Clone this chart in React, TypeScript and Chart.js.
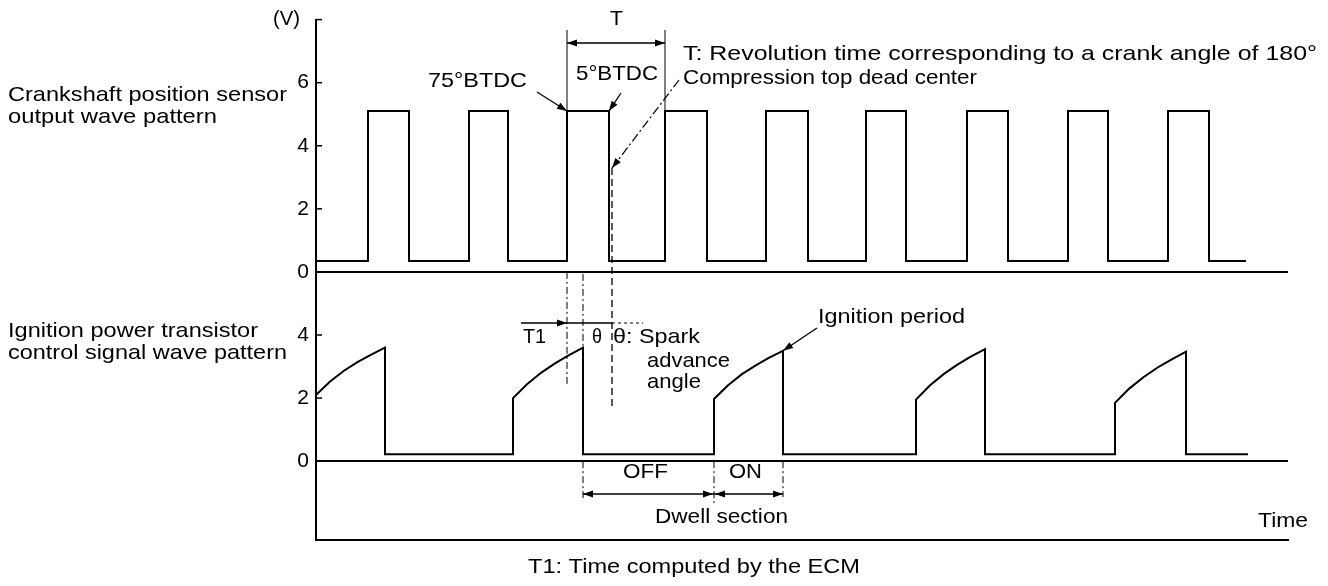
import React, { useEffect, useRef } from 'react';
import { Chart, registerables } from 'chart.js';

Chart.register(...registerables);

const FONT = '"Liberation Sans", Arial, Helvetica, sans-serif';

// ---- Data (time units along the x axis, volts on the y axes) ----
// Crankshaft position sensor output (upper trace)
const crankRise = [52, 153, 251, 349, 450, 550, 651, 752, 852];
const crankFall = [93, 192, 293, 391, 492, 590, 692, 792, 893];
const crankLowV = 0.35;
const crankHighV = 5.1;
const crankEnd = 930;

// Ignition power transistor control signal (lower trace)
const ignRise = [0, 197, 398, 600, 799];
const ignPeak = [69, 267, 467, 669, 870];
const ignRampV = [
  [2.1, 2.52, 2.86, 3.14, 3.38, 3.6],
  [2.0, 2.44, 2.8, 3.1, 3.36, 3.6],
  [1.97, 2.4, 2.75, 3.03, 3.28, 3.5],
  [1.95, 2.4, 2.76, 3.06, 3.32, 3.55],
  [1.85, 2.3, 2.66, 2.97, 3.23, 3.47],
];
const ignLowV = 0.22;
const ignEnd = 932;

// Compression top dead center (just after the 5°BTDC edge of the 3rd pulse)
const tdcTime = 296;

// Axis ticks
const topTickLabels = [0, 2, 4, 6];
const bottomTickLabels = [0, 2, 4];
const TOP_OFFSET = 6; // upper trace zero sits 6 units above the lower trace zero
const TOP_AXIS_MAX = 8;
const Y_MIN = -2.5;
const X_MAX = 972;

function buildCrank() {
  const pts: { x: number; y: number }[] = [{ x: 0, y: crankLowV + TOP_OFFSET }];
  crankRise.forEach((r, i) => {
    pts.push({ x: r, y: crankLowV + TOP_OFFSET });
    pts.push({ x: r, y: crankHighV + TOP_OFFSET });
    pts.push({ x: crankFall[i], y: crankHighV + TOP_OFFSET });
    pts.push({ x: crankFall[i], y: crankLowV + TOP_OFFSET });
  });
  pts.push({ x: crankEnd, y: crankLowV + TOP_OFFSET });
  return pts;
}

function buildIgn() {
  const pts: { x: number; y: number }[] = [];
  ignRise.forEach((r, i) => {
    const ramp = ignRampV[i];
    if (i > 0) pts.push({ x: r, y: ignLowV });
    ramp.forEach((v, k) => {
      pts.push({ x: r + ((ignPeak[i] - r) * k) / (ramp.length - 1), y: v });
    });
    pts.push({ x: ignPeak[i], y: ignLowV });
  });
  pts.push({ x: ignEnd, y: ignLowV });
  return pts;
}

function head(ctx: CanvasRenderingContext2D, tx: number, ty: number, ang: number, len = 10, hw = 3.5) {
  ctx.save();
  ctx.setLineDash([]);
  ctx.beginPath();
  ctx.moveTo(tx, ty);
  ctx.lineTo(tx - len * Math.cos(ang) + hw * Math.sin(ang), ty - len * Math.sin(ang) - hw * Math.cos(ang));
  ctx.lineTo(tx - len * Math.cos(ang) - hw * Math.sin(ang), ty - len * Math.sin(ang) + hw * Math.cos(ang));
  ctx.closePath();
  ctx.fill();
  ctx.restore();
}

function line(ctx: CanvasRenderingContext2D, x1: number, y1: number, x2: number, y2: number, w = 1.3, dash: number[] = []) {
  ctx.save();
  ctx.lineWidth = w;
  ctx.setLineDash(dash);
  ctx.beginPath();
  ctx.moveTo(x1, y1);
  ctx.lineTo(x2, y2);
  ctx.stroke();
  ctx.restore();
}

function arrow(ctx: CanvasRenderingContext2D, x1: number, y1: number, x2: number, y2: number, w = 1.3, dash: number[] = []) {
  line(ctx, x1, y1, x2, y2, w, dash);
  head(ctx, x2, y2, Math.atan2(y2 - y1, x2 - x1));
}

function text(ctx: CanvasRenderingContext2D, s: string, x: number, baseline: number, width: number, size = 21) {
  ctx.save();
  ctx.font = `${size}px ${FONT}`;
  ctx.textAlign = 'left';
  ctx.textBaseline = 'alphabetic';
  const m = ctx.measureText(s).width;
  ctx.translate(x, baseline);
  ctx.scale(width / m, 1);
  ctx.fillText(s, 0, 0);
  ctx.restore();
}

const annotations = {
  id: 'annotations',
  afterDraw(chart: any) {
    const { ctx } = chart;
    const xs = chart.scales.x;
    const ys = chart.scales.y;
    const X = (t: number) => xs.getPixelForValue(t);
    const YT = (v: number) => ys.getPixelForValue(v + TOP_OFFSET);
    const YB = (v: number) => ys.getPixelForValue(v);
    const axisX = chart.chartArea.left;
    ctx.save();
    ctx.strokeStyle = '#000';
    ctx.fillStyle = '#000';

    // inward tick marks
    ys.ticks.forEach((t: any) => {
      const py = ys.getPixelForValue(t.value);
      line(ctx, axisX, py, axisX + 6, py, 1.5);
    });

    // (V) unit
    text(ctx, '(V)', 273, 25, 27);

    // T dimension
    const x75 = X(crankRise[2]);
    const xNext = X(crankRise[3]);
    const yHigh = YT(crankHighV);
    line(ctx, x75, 30, x75, yHigh, 1);
    line(ctx, xNext, 30, xNext, yHigh, 1);
    line(ctx, x75, 43, xNext, 43, 1.3);
    head(ctx, x75, 43, Math.PI);
    head(ctx, xNext, 43, 0);
    text(ctx, 'T', 610, 25, 13);

    // 75°BTDC / 5°BTDC
    text(ctx, '75°BTDC', 428, 87, 99);
    arrow(ctx, 537, 92, x75, yHigh);
    const x5 = X(crankFall[2]);
    text(ctx, '5°BTDC', 576, 80, 82);
    arrow(ctx, 621, 93, x5, yHigh);

    // descriptions
    text(ctx, 'T: Revolution time corresponding to a crank angle of 180°', 683, 60, 634);
    text(ctx, 'Compression top dead center', 683, 84, 294);

    // TDC pointer + vertical
    const xT = X(tdcTime);
    arrow(ctx, 679, 80, xT, 168, 1.2, [9, 3, 2, 3]);
    line(ctx, xT, 168, xT, 410, 1.3, [7, 4]);

    // vertical guide lines
    line(ctx, x75, YT(0), x75, 384, 1, [7, 3, 2, 3]);
    const xIgn = X(ignPeak[1]);
    line(ctx, xIgn, YT(0) + 2, xIgn, YB(ignRampV[1][ignRampV[1].length - 1]), 1, [7, 3, 2, 3]);

    // T1 dimension
    line(ctx, 521, 323, xT, 323, 1.3);
    line(ctx, xT, 323, 643, 323, 1, [3, 3]);
    head(ctx, x75, 323, 0);
    text(ctx, 'T1', 523, 343, 23);

    // theta
    text(ctx, 'θ', 592, 343, 10);
    text(ctx, 'θ: Spark', 613, 343, 87);
    text(ctx, 'advance', 647, 367, 83);
    text(ctx, 'angle', 647, 388, 54);

    // Ignition period
    text(ctx, 'Ignition period', 818, 323, 147);
    const r2 = ignRampV[2];
    arrow(ctx, 817, 328, X(ignPeak[2]), YB(r2[r2.length - 1]));

    // OFF / ON / Dwell
    const xOn = X(ignRise[2]);
    const xOff = X(ignPeak[2]);
    line(ctx, xIgn, YB(0), xIgn, 500, 1, [7, 3, 2, 3]);
    line(ctx, xOn, YB(0), xOn, 505, 1, [7, 3, 2, 3]);
    line(ctx, xOff, YB(0), xOff, 497, 1, [7, 3, 2, 3]);
    line(ctx, xIgn, 494, xOff, 494, 1.3);
    head(ctx, xIgn, 494, Math.PI);
    head(ctx, xOn - 1, 494, 0);
    head(ctx, xOn + 1, 494, Math.PI);
    head(ctx, xOff, 494, 0);
    text(ctx, 'OFF', 623, 478, 45);
    text(ctx, 'ON', 729, 478, 33);
    text(ctx, 'Dwell section', 655, 523, 133);

    // Time & caption
    text(ctx, 'Time', 1258, 527, 50);
    text(ctx, 'T1: Time computed by the ECM', 528, 573, 332);

    // left labels
    text(ctx, 'Crankshaft position sensor', 8, 101, 279);
    text(ctx, 'output wave pattern', 8, 123, 209);
    text(ctx, 'Ignition power transistor', 8, 337, 250);
    text(ctx, 'control signal wave pattern', 8, 359, 279);

    ctx.restore();
  },
};

export default function App() {
  const ref = useRef<HTMLCanvasElement>(null);
  useEffect(() => {
    const tickVals = [
      ...bottomTickLabels,
      ...topTickLabels.map((v) => v + TOP_OFFSET),
      TOP_AXIS_MAX + TOP_OFFSET,
    ];
    const chart = new Chart(ref.current as HTMLCanvasElement, {
      type: 'line',
      data: {
        datasets: [
          {
            label: 'Crankshaft position sensor',
            data: buildCrank(),
            borderColor: '#000',
            borderWidth: 2,
            pointRadius: 0,
            tension: 0,
            fill: false,
          },
          {
            label: 'Ignition power transistor',
            data: buildIgn(),
            borderColor: '#000',
            borderWidth: 2,
            pointRadius: 0,
            tension: 0,
            fill: false,
          },
        ],
      },
      options: {
        animation: false,
        responsive: false,
        maintainAspectRatio: false,
        layout: { padding: { top: 12, right: 40, bottom: 46, left: 0 } },
        plugins: { legend: { display: false }, tooltip: { enabled: false } },
        scales: {
          x: {
            type: 'linear',
            min: 0,
            max: X_MAX,
            grid: { display: false, drawTicks: false },
            ticks: { display: false },
            border: { display: true, color: '#000', width: 2 },
          },
          y: {
            type: 'linear',
            min: Y_MIN,
            max: TOP_AXIS_MAX + TOP_OFFSET,
            afterFit: (s: any) => {
              s.width = 316;
            },
            afterBuildTicks: (s: any) => {
              s.ticks = tickVals.map((v) => ({ value: v }));
            },
            ticks: {
              color: '#000',
              padding: 7,
              font: { family: FONT, size: 21 },
              callback: (v: any) => {
                const n = Number(v);
                if (n >= TOP_AXIS_MAX + TOP_OFFSET) return '';
                return n >= TOP_OFFSET ? String(n - TOP_OFFSET) : String(n);
              },
            },
            grid: {
              drawTicks: false,
              lineWidth: 2,
              color: (c: any) =>
                c.tick && (c.tick.value === 0 || c.tick.value === TOP_OFFSET) ? '#000' : 'rgba(0,0,0,0)',
            },
            border: { display: true, color: '#000', width: 2 },
          },
        },
      },
      plugins: [annotations],
    });
    return () => chart.destroy();
  }, []);
  return (
    <div style={{ position: 'absolute', left: 0, top: 0, width: 1328, height: 586, background: '#fff' }}>
      <canvas ref={ref} width={1328} height={586} style={{ display: 'block', width: 1328, height: 586 }} />
    </div>
  );
}
